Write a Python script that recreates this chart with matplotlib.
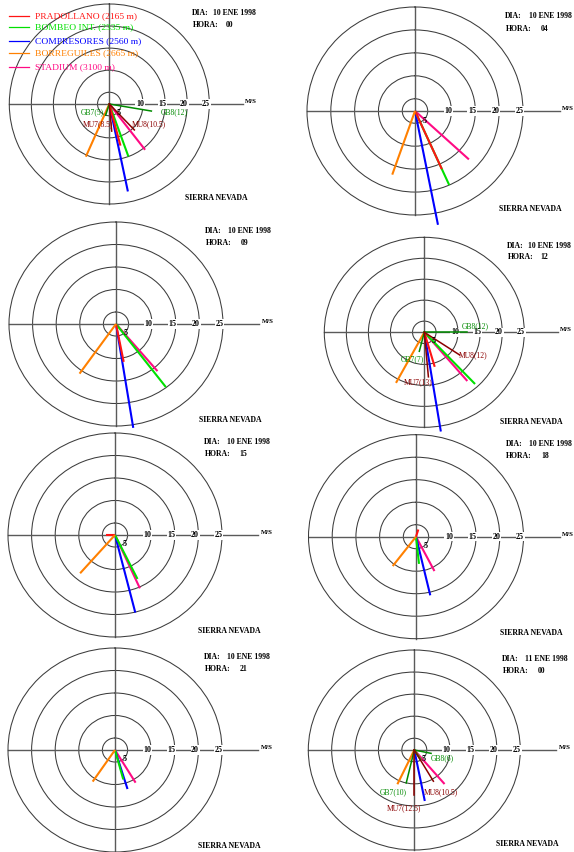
import numpy as np
import matplotlib
matplotlib.use("Agg")
import matplotlib.pyplot as plt
from matplotlib.lines import Line2D

plt.rcParams["font.family"] = ["Liberation Serif", "DejaVu Serif"]

# ---------------------------------------------------------------- data
stations = ["PRADOLLANO (2165 m)", "BOMBEO INT. (2335 m)", "COMPRESORES (2560 m)",
            "BORREGUILES (2665 m)", "STADIUM (3100 m)"]
station_colors = ["#ff1414", "#00e000", "#0000ff", "#ff8000", "#ff0a84"]

dias = ["10 ENE 1998"] * 7 + ["11 ENE 1998"]
horas = ["00", "04", "09", "12", "15", "18", "21", "00"]

nan = np.nan
# wind speed (m/s) and bearing (degrees clockwise from north) per station and hour
pradollano_speed = [12.1, 16.2, 10.9, 10.9, 4.2, 4.0, nan, nan]
pradollano_dir = [165, 156, 169, 164, 270, 17, nan, nan]
bombeo_speed = [15.0, 20.0, 19.9, 19.2, 13.2, 8.4, 9.1, 5.0]
bombeo_dir = [160, 156, 143, 137, 154, 174, 165, 148]
compresores_speed = [22.6, 27.6, 25.7, 26.3, 20.1, 15.7, 11.4, 14.1]
compresores_dir = [168, 169, 171, 171, 166, 167, 163, 169]
borreguiles_speed = [15.4, 17.0, 15.8, 16.0, 13.6, 10.5, 10.8, 10.9]
borreguiles_dir = [204, 199, 215, 208, 221, 217, 214, 205]
stadium_speed = [15.5, 17.8, 16.0, 17.5, 15.3, 10.9, 10.8, 12.4]
stadium_dir = [142, 133, 140, 140, 156, 153, 149, 140]

# model grid points (labelled vectors)
gb7_speed = [5, nan, nan, 7, nan, nan, nan, 10]
gb7_dir = [198, nan, nan, 194, nan, nan, nan, 193]
gb8_speed = [12, nan, nan, 12, nan, nan, nan, 6]
gb8_dir = [99.5, nan, nan, 90, nan, nan, nan, 102]
mu7_speed = [8.5, nan, nan, 13, nan, nan, nan, 12.5]
mu7_dir = [175, nan, nan, 175, nan, nan, nan, 180]
mu8_speed = [10.5, nan, nan, 12, nan, nan, nan, 10.5]
mu8_dir = [136, nan, nan, 124, nan, nan, nan, 150]

ring_values = [5, 10, 15, 20, 25]
R0 = 2.33  # speed at the centre of each rose

# ---------------------------------------------------------------- layout (pixels)
W, H, DPI = 574, 852, 100
panel_cx = [109.3, 415, 116, 424.3, 115, 416, 115, 414.3]
panel_cy = [104, 111, 324, 332.3, 535, 536.7, 750, 750]
panel_rx = [100, 108, 107, 100, 107, 107.5, 107, 106]
panel_ry = [100, 104, 102, 95, 102, 102, 102, 100]

# label offsets, normalised to the panel radius (x right, y down)
label_pos = {
    0: {"GB7": (-0.168, 0.083), "GB8": (0.647, 0.077), "MU7": (-0.118, 0.197), "MU8": (0.40, 0.203)},
    3: {"GB7": (-0.12, 0.284), "GB8": (0.507, -0.066), "MU7": (-0.06, 0.53), "MU8": (0.49, 0.239)},
    7: {"GB7": (-0.20, 0.417), "GB8": (0.262, 0.085), "MU7": (-0.094, 0.583), "MU8": (0.249, 0.423)},
}

GB_COLOR = "#008a00"
MU_COLOR = "#8b0000"
RING_COLOR = "#3c3c3c"
AXIS_COLOR = "#5a5a5a"

fig = plt.figure(figsize=(W / DPI, H / DPI), dpi=DPI)
fig.patch.set_facecolor("white")

station_series = [
    (pradollano_speed, pradollano_dir),
    (bombeo_speed, bombeo_dir),
    (compresores_speed, compresores_dir),
    (borreguiles_speed, borreguiles_dir),
    (stadium_speed, stadium_dir),
]
draw_order = [4, 2, 1, 0, 3]


def frac(nx, ny):
    return 0.5 + 0.5 * nx, 0.5 - 0.5 * ny


axis_end = R0 + 1.34 * (25 - R0)
ms_pos = R0 + 1.36 * (25 - R0)
HEAD_FS = 5.6

for k in range(8):
    cx, cy, rx, ry = panel_cx[k], panel_cy[k], panel_rx[k], panel_ry[k]
    ax = fig.add_axes([(cx - rx) / W, 1 - (cy + ry) / H, 2 * rx / W, 2 * ry / H],
                      projection="polar")
    ax.set_aspect("auto")
    ax.set_theta_zero_location("N")
    ax.set_theta_direction(-1)
    ax.set_ylim(R0, 25)
    ax.set_yticks(ring_values[:-1])
    ax.set_yticklabels([])
    ax.set_xticks([])
    ax.yaxis.grid(True, color=RING_COLOR, lw=0.75)
    ax.spines["polar"].set_color(RING_COLOR)
    ax.spines["polar"].set_linewidth(0.75)
    ax.patch.set_visible(False)

    # cross of axes
    for th in (0, np.pi, 1.5 * np.pi):
        ax.plot([th, th], [R0, 25], color=AXIS_COLOR, lw=1.0, clip_on=False, zorder=2)
    ax.plot([0.5 * np.pi] * 2, [R0, axis_end], color=AXIS_COLOR, lw=1.0, clip_on=False, zorder=2)
    ax.text(0.5 * np.pi, ms_pos, "M/S", ha="left", va="bottom", fontsize=4.9,
            fontweight="bold", clip_on=False)

    for v in ring_values[1:]:
        ax.text(0.5 * np.pi, v - 0.7, str(v), ha="center", va="center", fontsize=5.8,
                fontweight="bold", zorder=4,
                bbox=dict(fc="white", ec="none", pad=0.4))
    ax.text(np.deg2rad(135), 5.3, str(ring_values[0]), ha="center", va="center",
            fontsize=5.8, fontweight="bold", zorder=6)

    # station vectors
    for s in draw_order:
        spd, dr = station_series[s]
        if np.isnan(spd[k]):
            continue
        th = np.deg2rad(dr[k])
        ax.plot([th, th], [R0, spd[k]], color=station_colors[s], lw=1.5,
                solid_capstyle="butt", clip_on=False, zorder=5)

    # labelled grid-point vectors
    if k in label_pos:
        for name, spd, dr, col in (("GB7", gb7_speed, gb7_dir, GB_COLOR),
                                   ("GB8", gb8_speed, gb8_dir, GB_COLOR),
                                   ("MU7", mu7_speed, mu7_dir, MU_COLOR),
                                   ("MU8", mu8_speed, mu8_dir, MU_COLOR)):
            th = np.deg2rad(dr[k])
            ax.plot([th, th], [R0, spd[k]], color=col, lw=1.1, clip_on=False, zorder=5.5)
            x, y = frac(*label_pos[k][name])
            ax.text(x, y, f"{name}({spd[k]:g})", transform=ax.transAxes, ha="center",
                    va="center", fontsize=5.5, color=col, zorder=7)

    # header and footer
    x, y = frac(0.91, -0.91)
    ax.text(x, y, "DIA:", transform=ax.transAxes, ha="center", va="center",
            fontsize=HEAD_FS, fontweight="bold")
    x, y = frac(1.25, -0.91)
    ax.text(x, y, dias[k], transform=ax.transAxes, ha="center", va="center",
            fontsize=HEAD_FS, fontweight="bold")
    x, y = frac(0.96, -0.79)
    ax.text(x, y, "HORA:", transform=ax.transAxes, ha="center", va="center",
            fontsize=HEAD_FS, fontweight="bold")
    x, y = frac(1.20, -0.79)
    ax.text(x, y, horas[k], transform=ax.transAxes, ha="center", va="center",
            fontsize=HEAD_FS, fontweight="bold")
    x, y = frac(1.07, 0.945)
    ax.text(x, y, "SIERRA NEVADA", transform=ax.transAxes, ha="center", va="center",
            fontsize=HEAD_FS, fontweight="bold")

# station legend in the first rose
legend_y = [15.7, 26.7, 40.7, 53.3, 66.7]
for i, name in enumerate(stations):
    yy = 1 - legend_y[i] / H
    fig.add_artist(Line2D([9.3 / W, 29 / W], [yy, yy], color=station_colors[i], lw=0.9))
    fig.text(35 / W, yy, name, color=station_colors[i], fontsize=6.8, ha="left", va="center")

fig.savefig("out.png", dpi=DPI, facecolor="white")
